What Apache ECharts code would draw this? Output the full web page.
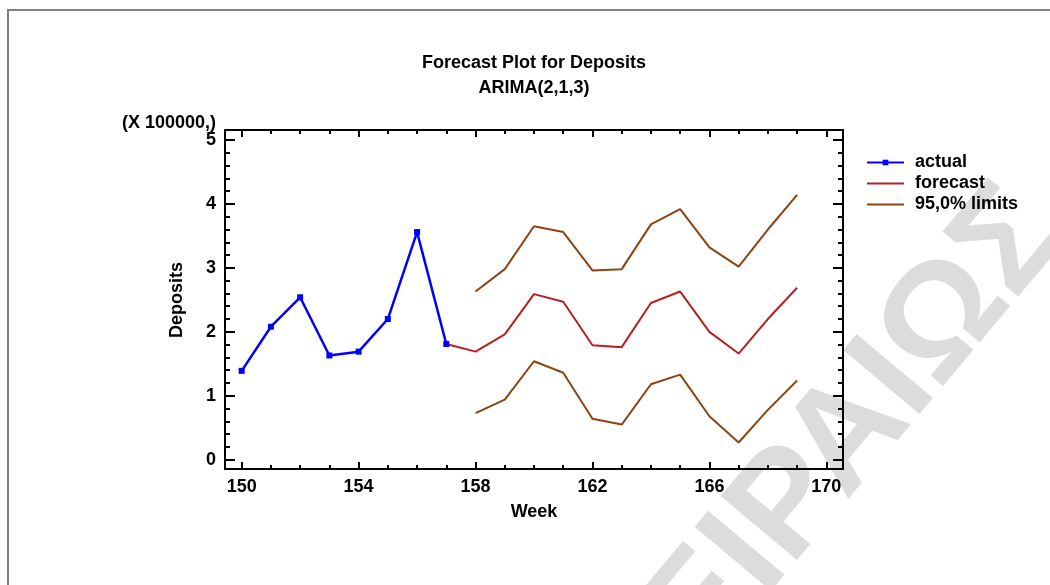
<!DOCTYPE html>
<html>
<head>
<meta charset="utf-8">
<script src="https://cdn.jsdelivr.net/npm/echarts@6/dist/echarts.min.js"></script>
<style>
  html, body { margin: 0; padding: 0; background: #ffffff; }
  #chart { width: 1050px; height: 585px; }
</style>
</head>
<body>
<div id="chart"></div>
<script>
// Weekly deposits (units of 100000) and ARIMA(2,1,3) forecast with 95% limits
const weeksActual = [150, 151, 152, 153, 154, 155, 156, 157];
const actualValues = [1.39, 2.08, 2.54, 1.63, 1.69, 2.20, 3.56, 1.81];

const weeksForecast = [157, 158, 159, 160, 161, 162, 163, 164, 165, 166, 167, 168, 169];
const forecastValues = [1.81, 1.69, 1.96, 2.59, 2.47, 1.79, 1.76, 2.45, 2.63, 2.00, 1.66, 2.20, 2.69];

const weeksLimits = [158, 159, 160, 161, 162, 163, 164, 165, 166, 167, 168, 169];
const upperLimits = [2.63, 2.98, 3.65, 3.56, 2.96, 2.98, 3.68, 3.92, 3.32, 3.02, 3.60, 4.14];
const lowerLimits = [0.73, 0.94, 1.54, 1.36, 0.64, 0.55, 1.18, 1.33, 0.68, 0.27, 0.78, 1.24];

const xMajorTicks = [150, 154, 158, 162, 166, 170];
const xMinorTicks = [150, 151, 152, 153, 154, 155, 156, 157, 158, 159, 160,
                     161, 162, 163, 164, 165, 166, 167, 168, 169, 170];
const yMajorTicks = [0, 1, 2, 3, 4, 5];
const yMinorTicks = [0, 0.2, 0.4, 0.6, 0.8, 1, 1.2, 1.4, 1.6, 1.8, 2, 2.2, 2.4, 2.6, 2.8,
                     3, 3.2, 3.4, 3.6, 3.8, 4, 4.2, 4.4, 4.6, 4.8, 5];

const X_RANGE = [149.43, 170.57];
const Y_RANGE = [-0.145, 5.156];

const FONT = '"Liberation Sans", Arial, Helvetica, sans-serif';
const INK = '#000000';
const C_ACTUAL = '#0000ff';
const C_FORECAST = '#b22222';
const C_LIMITS = '#8b4513';

const pairs = (xs, ys) => xs.map((x, i) => [x, ys[i]]);

// One axis layer: either the framed line with major ticks/labels, or a bare minor-tick layer
function axisLayer(position, range, ticks, tickLen, withLine, withLabels) {
  return {
    type: 'value',
    position: position,
    min: range[0],
    max: range[1],
    splitLine: { show: false },
    axisLine: { show: withLine, onZero: false, lineStyle: { color: INK, width: 2 } },
    axisTick: {
      show: true, inside: true, length: tickLen, customValues: ticks,
      lineStyle: { color: INK, width: 2 }
    },
    axisLabel: withLabels ? {
      show: true, customValues: ticks, color: INK, fontFamily: FONT,
      fontSize: 18, fontWeight: 'bold', margin: 9
    } : { show: false }
  };
}

// Legend entries for plain lines: hide the symbol, keep the stroke
const hiddenSymbol = { color: 'rgba(0,0,0,0)', borderWidth: 0, opacity: 0 };

const chart = echarts.init(document.getElementById('chart'), null, { renderer: 'canvas' });

const option = {
  animation: false,
  backgroundColor: '#ffffff',
  textStyle: { fontFamily: FONT },
  grid: { left: 225, right: 207, top: 130, bottom: 116, containLabel: false },
  xAxis: [
    axisLayer('bottom', X_RANGE, xMajorTicks, 7, true, true),
    axisLayer('bottom', X_RANGE, xMinorTicks, 4, false, false),
    axisLayer('top', X_RANGE, xMajorTicks, 7, true, false),
    axisLayer('top', X_RANGE, xMinorTicks, 4, false, false)
  ],
  yAxis: [
    axisLayer('left', Y_RANGE, yMajorTicks, 10, true, true),
    axisLayer('left', Y_RANGE, yMinorTicks, 5, false, false),
    axisLayer('right', Y_RANGE, yMajorTicks, 10, true, false),
    axisLayer('right', Y_RANGE, yMinorTicks, 5, false, false)
  ],
  legend: {
    orient: 'vertical',
    left: 861,
    top: 147,
    itemWidth: 37,
    itemHeight: 7,
    itemGap: 0,
    data: [
      { name: 'actual' },
      { name: 'forecast', itemStyle: hiddenSymbol },
      { name: '95,0% limits', itemStyle: hiddenSymbol }
    ],
    textStyle: {
      color: INK, fontFamily: FONT, fontSize: 18, fontWeight: 'bold',
      lineHeight: 21, padding: [0, 0, 0, 6]
    }
  },
  series: [
    {
      name: 'actual', type: 'line', data: pairs(weeksActual, actualValues),
      color: C_ACTUAL, symbol: 'rect', symbolSize: 6, showSymbol: true,
      lineStyle: { width: 2.5, color: C_ACTUAL }, itemStyle: { color: C_ACTUAL }, z: 4
    },
    {
      name: 'forecast', type: 'line', data: pairs(weeksForecast, forecastValues),
      color: C_FORECAST, symbol: 'none', lineStyle: { width: 2, color: C_FORECAST }, z: 3
    },
    {
      name: '95,0% limits', type: 'line', data: pairs(weeksLimits, upperLimits),
      color: C_LIMITS, symbol: 'none', lineStyle: { width: 2, color: C_LIMITS }, z: 3
    },
    {
      name: '95,0% limits', type: 'line', data: pairs(weeksLimits, lowerLimits),
      color: C_LIMITS, symbol: 'none', lineStyle: { width: 2, color: C_LIMITS }, z: 3
    }
  ],
  graphic: [
    // page frame
    {
      type: 'polyline', z: 1, silent: true,
      shape: { points: [[8, 590], [8, 10], [1055, 10]] },
      style: { stroke: '#808080', lineWidth: 2, fill: null }
    },
    // background watermark
    {
      type: 'text', z: -1, silent: true,
      x: 822, y: 468, rotation: 50 * Math.PI / 180,
      style: {
        text: 'ΠΕΙΡΑΙΩΣ', fill: '#dcdcdc',
        fontFamily: FONT, fontSize: 145, fontWeight: 'bold',
        textAlign: 'center', textVerticalAlign: 'middle'
      }
    },
    {
      type: 'text', x: 534, y: 63,
      style: {
        text: 'Forecast Plot for Deposits', fill: INK, fontFamily: FONT,
        fontSize: 18, fontWeight: 'bold', textAlign: 'center', textVerticalAlign: 'middle'
      }
    },
    {
      type: 'text', x: 534, y: 88,
      style: {
        text: 'ARIMA(2,1,3)', fill: INK, fontFamily: FONT,
        fontSize: 18, fontWeight: 'bold', textAlign: 'center', textVerticalAlign: 'middle'
      }
    },
    {
      type: 'text', x: 216, y: 123,
      style: {
        text: '(X 100000,)', fill: INK, fontFamily: FONT,
        fontSize: 18, fontWeight: 'bold', textAlign: 'right', textVerticalAlign: 'middle'
      }
    },
    {
      type: 'text', x: 177, y: 300, rotation: Math.PI / 2,
      style: {
        text: 'Deposits', fill: INK, fontFamily: FONT,
        fontSize: 18, fontWeight: 'bold', textAlign: 'center', textVerticalAlign: 'middle'
      }
    },
    {
      type: 'text', x: 534, y: 512,
      style: {
        text: 'Week', fill: INK, fontFamily: FONT,
        fontSize: 18, fontWeight: 'bold', textAlign: 'center', textVerticalAlign: 'middle'
      }
    }
  ]
};

chart.setOption(option);
</script>
</body>
</html>
